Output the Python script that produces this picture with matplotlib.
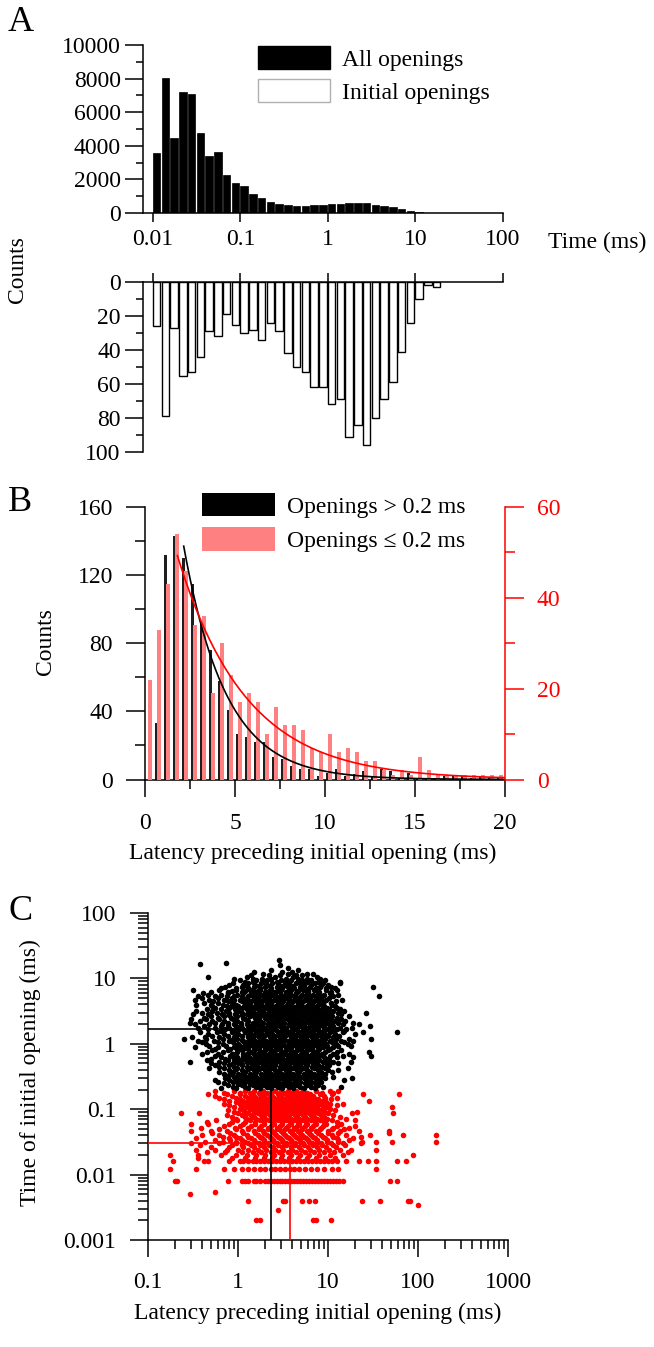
import numpy as np
import matplotlib.pyplot as plt
from matplotlib.patches import Patch
from matplotlib.ticker import (FixedLocator, MultipleLocator, NullLocator,
                               NullFormatter, LogLocator, FuncFormatter)

plt.rcParams['font.family'] = ['Liberation Serif', 'DejaVu Serif']
plt.rcParams['font.size'] = 17
plt.rcParams['axes.linewidth'] = 1.1

# ---- panel A : log-binned dwell times (10 bins per decade, from 0.01 ms)
a_all = [3600, 8050, 4450, 7200, 7100, 4750, 3400, 3650, 2250, 1800,
         1600, 1150, 920, 680, 560, 450, 430, 420, 470, 470,
         510, 540, 610, 610, 580, 500, 430, 360, 230, 120,
         40, 20, 10, 5, 3, 2, 1, 0, 0, 0]
a_init = [26, 79, 27, 55, 53, 44, 29, 32, 19, 25,
          30, 28, 34, 24, 29, 42, 50, 53, 62, 62,
          72, 69, 91, 84, 96, 80, 69, 59, 41, 24,
          10, 2, 3]
a_first_bin = 0.01
a_bins_per_decade = 10

# ---- panel B : latency histograms (0.5 ms groups)
b_centers = [0.5 * (k + 1) for k in range(40)]
b_long = [33, 132, 143, 130, 115, 93, 76, 58, 41, 27,
          25, 22, 22, 13, 12, 8, 6, 6, 2, 4,
          6, 2, 3, 5, 2, 6, 5, 1, 4, 1,
          1, 1, 2, 2, 2, 1, 2, 1, 1, 1]
b_short = [22, 33, 43, 54, 46, 34, 36, 19, 30, 23,
           17, 19, 17, 10, 16, 12, 12, 11, 7, 6,
           10, 6, 7, 6, 4, 4, 2, 1, 2, 1,
           5, 2, 1, 1, 1, 1, 1, 1, 1, 1]
# exponential fits: start, amplitude, time constant
fit_long = (2.15, 137.0, 2.35)
fit_short = (1.8, 49.3, 3.8)

# ---- panel C : latency (x) vs duration (y) of the initial opening
blk_levels = [13.3, 11.8, 10.5, 9.4, 8.4, 7.5, 6.7, 6.0, 5.3, 4.7, 4.2, 3.76,
              3.35, 2.98, 2.66, 2.37, 2.1, 1.88, 1.67, 1.49, 1.33, 1.18, 1.05,
              0.94, 0.84, 0.75, 0.66, 0.59, 0.53, 0.47, 0.42, 0.37, 0.33,
              0.30, 0.265, 0.235, 0.21]
blk_rows = [
    [2.3, 4.6],
    [1.9, 3.6, 5.9, 6.9],
    [0.47, 1.25, 2.6, 4.1, 7.6],
    [1.05, 1.6, 2.1, 3.0, 3.9, 5.2, 6.4, 9.2],
    [0.88, 1.3, 1.8, 2.4, 3.3, 4.4, 5.6, 7.1, 8.8, 13.5],
    [0.72, 1.1, 1.5, 2.0, 2.7, 3.6, 4.9, 6.3, 8.1, 10.9, 32],
    [0.32, 0.62, 0.95, 1.35, 1.75, 2.3, 3.0, 3.9, 5.3, 7.0, 9.6, 12.5],
    [0.41, 0.78, 1.15, 1.55, 2.05, 2.6, 3.4, 4.4, 5.8, 7.7, 10.5],
    [0.36, 0.55, 0.9, 1.3, 1.7, 2.25, 2.9, 3.8, 5.0, 6.5, 8.5, 11.5, 37],
    [0.48, 0.7, 1.05, 1.45, 1.9, 2.5, 3.2, 4.2, 5.5, 7.2, 9.5, 14.2],
    [0.42, 0.6, 0.85, 1.2, 1.6, 2.1, 2.75, 3.6, 4.7, 6.2, 8.0, 10.8],
    [0.52, 0.75, 1.0, 1.4, 1.85, 2.4, 3.1, 4.0, 5.2, 6.9, 9.0, 12.0],
    [0.45, 0.65, 0.92, 1.25, 1.65, 2.15, 2.8, 3.6, 4.6, 6.0, 7.8, 10.2, 13.5],
    [0.4, 0.58, 0.8, 1.1, 1.5, 1.95, 2.55, 3.3, 4.3, 5.6, 7.3, 9.6, 12.8, 26.5],
    [0.5, 0.7, 0.98, 1.35, 1.75, 2.3, 3.0, 3.9, 5.1, 6.6, 8.6, 11.2, 17.1],
    [0.3, 0.44, 0.62, 0.88, 1.2, 1.6, 2.1, 2.75, 3.6, 4.7, 6.2, 8.1, 10.5, 14.0],
    [0.29, 0.55, 0.78, 1.08, 1.45, 1.9, 2.5, 3.25, 4.25, 5.6, 7.4, 9.8, 13.0, 19.0],
    [0.42, 0.65, 0.95, 1.3, 1.7, 2.25, 2.95, 3.85, 5.0, 6.6, 8.7, 11.5, 29],
    [0.47, 0.72, 1.02, 1.4, 1.85, 2.45, 3.2, 4.2, 5.5, 7.2, 9.4, 12.5, 16.0],
    [0.38, 0.58, 0.85, 1.2, 1.6, 2.1, 2.75, 3.6, 4.7, 6.1, 8.0, 10.6, 14.5, 24.5, 58],
    [0.52, 0.78, 1.1, 1.5, 1.95, 2.55, 3.35, 4.4, 5.8, 7.6, 10.0, 13.2],
    [0.25, 0.44, 0.68, 0.98, 1.35, 1.8, 2.35, 3.1, 4.05, 5.3, 7.0, 9.2, 12.2, 17.0, 30],
    [0.4, 0.6, 0.88, 1.25, 1.65, 2.2, 2.9, 3.8, 5.0, 6.5, 8.5, 11.2, 15.0],
    [0.48, 0.74, 1.05, 1.45, 1.95, 2.55, 3.35, 4.4, 5.7, 7.5, 9.8, 13.0, 18.0],
    [0.56, 0.82, 1.15, 1.55, 2.05, 2.7, 3.55, 4.65, 6.1, 8.0, 10.5],
    [0.45, 0.68, 0.98, 1.35, 1.8, 2.4, 3.15, 4.1, 5.4, 7.1, 9.3, 12.5, 28.7],
    [0.55, 0.82, 1.15, 1.55, 2.05, 2.7, 3.55, 4.65, 6.1, 8.0, 10.6, 14.5, 30],
    [0.5, 0.72, 1.0, 1.38, 1.85, 2.45, 3.2, 4.2, 5.5, 7.2, 9.5],
    [0.29, 0.62, 0.9, 1.25, 1.65, 2.2, 2.9, 3.8, 5.0, 6.6, 8.7, 11.5, 18.0],
    [0.56, 0.8, 1.12, 1.5, 2.0, 2.6, 3.4, 4.5, 5.9, 7.8, 10.2],
    [0.48, 0.7, 0.98, 1.35, 1.8, 2.4, 3.15, 4.15, 5.4, 7.0, 9.2, 16.5],
    [0.62, 0.88, 1.2, 1.6, 2.15, 2.8, 3.7, 4.8, 6.3, 8.3, 11.0],
    [0.8, 1.1, 1.45, 1.95, 2.55, 3.35, 4.4, 5.8, 7.6],
    [0.72, 1.0, 1.35, 1.8, 2.35, 3.1, 4.1, 5.4, 7.1, 9.3, 18.5],
    [0.6, 0.88, 1.2, 1.6, 2.15, 2.8, 3.7, 4.9, 6.4, 8.4],
    [0.78, 1.1, 1.45, 1.95, 2.6, 3.4, 4.5, 5.9, 7.8],
    [0.65, 0.95, 1.3, 1.75, 2.35, 3.1, 4.1, 5.4, 7.2],
]
blk_levels2 = [12.5, 11.1, 9.9, 8.9, 7.9, 7.1, 6.3, 5.6, 5.0, 4.45, 3.97, 3.55,
               3.16, 2.82, 2.51, 2.23, 1.99, 1.77, 1.58, 1.41, 1.25, 1.11, 0.99,
               0.89, 0.79, 0.705, 0.625, 0.56, 0.50, 0.445, 0.395, 0.35, 0.315,
               0.283, 0.25, 0.222]
blk_rows2 = [
    [1.5, 3.1, 4.0],
    [1.4, 2.2, 2.9, 4.4, 5.2],
    [0.9, 1.45, 1.85, 2.3, 3.4, 4.6, 5.8, 8.2],
    [1.2, 1.45, 2.0, 2.7, 3.6, 4.8, 5.9, 7.8],
    [0.8, 1.15, 1.55, 2.1, 2.85, 3.8, 5.0, 6.5, 8.3, 10.0],
    [0.65, 0.95, 1.3, 1.75, 2.35, 3.1, 4.2, 5.6, 7.3, 9.4, 12.0],
    [0.5, 0.78, 1.1, 1.5, 2.0, 2.6, 3.4, 4.5, 6.0, 8.0, 10.8],
    [0.46, 0.65, 0.98, 1.35, 1.8, 2.35, 3.0, 3.9, 5.1, 6.8, 9.0, 13.0],
    [0.4, 0.6, 0.85, 1.15, 1.55, 2.05, 2.7, 3.5, 4.6, 6.0, 7.8, 10.2],
    [0.53, 0.77, 1.1, 1.4, 1.85, 2.4, 3.15, 4.1, 5.3, 7.0, 9.0, 12.2],
    [0.34, 0.5, 0.68, 0.95, 1.3, 1.7, 2.25, 2.95, 3.85, 5.0, 6.5, 8.5, 11.0],
    [0.56, 0.8, 1.12, 1.5, 1.95, 2.55, 3.35, 4.35, 5.7, 7.4, 9.7, 12.6],
    [0.34, 0.52, 0.74, 1.0, 1.35, 1.8, 2.35, 3.05, 4.0, 5.2, 6.8, 8.8, 11.5, 15.0],
    [0.47, 0.67, 0.92, 1.25, 1.65, 2.15, 2.8, 3.6, 4.7, 6.1, 8.0, 10.3, 13.8],
    [0.42, 0.6, 0.83, 1.15, 1.55, 2.0, 2.6, 3.35, 4.35, 5.7, 7.4, 9.6, 12.5],
    [0.38, 0.52, 0.7, 0.98, 1.3, 1.75, 2.3, 3.0, 3.95, 5.2, 6.8, 8.9, 11.6, 15.5],
    [0.33, 0.48, 0.66, 0.9, 1.25, 1.6, 2.15, 2.8, 3.65, 4.8, 6.3, 8.2, 10.8, 14.5, 22.0],
    [0.36, 0.55, 0.8, 1.1, 1.5, 1.98, 2.6, 3.45, 4.55, 6.0, 7.8, 10.2, 13.5, 18.5],
    [0.64, 0.92, 1.3, 1.72, 2.28, 3.0, 3.9, 5.1, 6.7, 8.8, 11.5, 15.0],
    [0.46, 0.7, 1.0, 1.4, 1.83, 2.4, 3.15, 4.1, 5.35, 7.0, 9.2, 12.0, 20.0],
    [0.31, 0.43, 0.62, 0.9, 1.28, 1.7, 2.25, 2.95, 3.85, 5.0, 6.6, 8.6, 11.3],
    [0.36, 0.54, 0.8, 1.15, 1.55, 2.05, 2.7, 3.55, 4.6, 6.0, 7.9, 10.4, 14.0, 19.0],
    [0.44, 0.68, 1.0, 1.4, 1.85, 2.45, 3.2, 4.2, 5.5, 7.2, 9.4, 12.3, 16.5],
    [0.33, 0.6, 0.9, 1.28, 1.7, 2.25, 2.95, 3.9, 5.1, 6.7, 8.8, 11.5],
    [0.52, 0.78, 1.1, 1.5, 2.0, 2.6, 3.45, 4.5, 5.9, 7.7, 10.0, 14.0],
    [0.4, 0.6, 0.88, 1.25, 1.65, 2.2, 2.9, 3.8, 5.0, 6.6, 8.6, 11.5, 17.0],
    [0.65, 0.98, 1.32, 1.75, 2.3, 3.0, 3.95, 5.2, 6.8, 9.0, 12.5, 19.0],
    [0.45, 0.78, 1.1, 1.52, 2.0, 2.65, 3.5, 4.6, 6.0, 7.9, 10.3],
    [0.5, 0.7, 1.0, 1.38, 1.85, 2.4, 3.15, 4.15, 5.5, 7.2, 9.5, 13.0],
    [0.62, 0.9, 1.25, 1.65, 2.2, 2.9, 3.8, 5.0, 6.6, 8.6],
    [0.8, 1.1, 1.5, 2.0, 2.6, 3.45, 4.5, 5.9, 7.7, 10.0, 13.0],
    [0.7, 1.0, 1.35, 1.8, 2.35, 3.1, 4.1, 5.4, 7.0, 9.2],
    [0.9, 1.22, 1.6, 2.1, 2.8, 3.7, 4.85, 6.4, 8.4, 11.5],
    [0.55, 0.8, 1.1, 1.45, 1.95, 2.55, 3.35, 4.45, 5.9, 7.8, 15.0],
    [0.7, 1.0, 1.35, 1.8, 2.4, 3.15, 4.2, 5.5, 7.2],
    [0.88, 1.2, 1.6, 2.1, 2.8, 3.7, 4.9, 6.5, 8.8, 14.0],
]
blk_levels3 = [7.7, 6.5, 5.45, 4.6, 3.85, 3.25, 2.74, 2.3, 1.94, 1.63, 1.37,
               1.15, 0.97, 0.82, 0.69, 0.58, 0.49, 0.41, 0.345, 0.29, 0.245]
blk_rows3 = [
    [1.25, 1.7, 2.25, 3.2, 4.1, 5.3],
    [0.85, 1.2, 1.65, 2.2, 2.8, 3.7, 4.7, 6.0],
    [0.75, 1.1, 1.5, 2.0, 2.6, 3.3, 4.3, 5.6, 7.3],
    [0.9, 1.25, 1.7, 2.2, 2.85, 3.7, 4.8, 6.3, 8.3],
    [0.85, 1.18, 1.6, 2.05, 2.65, 3.45, 4.5, 5.8, 7.6],
    [0.95, 1.3, 1.75, 2.3, 2.95, 3.85, 5.0, 6.5, 8.4],
    [0.8, 1.1, 1.45, 1.9, 2.45, 3.2, 4.15, 5.4, 7.0, 9.2],
    [0.93, 1.25, 1.65, 2.15, 2.8, 3.65, 4.75, 6.2, 8.0],
    [0.78, 1.07, 1.42, 1.85, 2.4, 3.15, 4.1, 5.35, 7.0, 9.1],
    [0.88, 1.18, 1.55, 2.05, 2.65, 3.45, 4.5, 5.9, 7.7],
    [0.95, 1.3, 1.7, 2.2, 2.9, 3.75, 4.9, 6.4, 8.3],
    [0.82, 1.1, 1.45, 1.9, 2.5, 3.25, 4.25, 5.55, 7.3],
    [0.92, 1.2, 1.6, 2.1, 2.7, 3.55, 4.6, 6.0, 7.9],
    [0.98, 1.3, 1.72, 2.25, 2.95, 3.85, 5.0, 6.6],
    [0.85, 1.15, 1.5, 1.95, 2.55, 3.35, 4.35, 5.7, 7.5],
    [0.9, 1.22, 1.6, 2.1, 2.75, 3.6, 4.7, 6.2],
    [0.85, 1.12, 1.5, 1.95, 2.55, 3.35, 4.4, 5.8],
    [0.95, 1.28, 1.7, 2.2, 2.9, 3.8, 5.0],
    [0.85, 1.15, 1.5, 2.0, 2.6, 3.4, 4.5],
    [0.92, 1.25, 1.65, 2.15, 2.85, 3.75],
    [1.0, 1.35, 1.75, 2.3, 3.0, 4.0],
]
blk_extra_x = [0.375, 0.735, 2.83, 2.9, 3.6, 13.5, 0.33, 0.32]
blk_extra_y = [16.7, 17.0, 19.2, 15.9, 14.3, 8.7, 4.7, 2.9]

red_levels = [0.19, 0.17, 0.15, 0.135, 0.12, 0.108, 0.096, 0.086, 0.076, 0.068,
              0.06, 0.052, 0.046, 0.04, 0.036, 0.032, 0.028, 0.024, 0.02, 0.016,
              0.012, 0.008, 0.004, 0.002]
red_rows = [
    [0.55, 0.9, 1.2, 1.5, 1.9, 2.6, 3.0, 3.6, 4.4, 5.3, 7.3, 10.5, 13.0],
    [0.47, 0.75, 1.05, 1.4, 1.75, 2.2, 2.8, 3.4, 4.1, 5.0, 6.3, 8.2, 11.0, 24.3, 61],
    [0.62, 0.95, 1.3, 1.6, 2.0, 2.5, 3.1, 3.8, 4.7, 5.8, 7.0, 9.2, 12.5],
    [0.8, 1.15, 1.45, 1.85, 2.3, 2.9, 3.5, 4.3, 5.3, 6.6, 8.5, 28.5],
    [0.7, 1.05, 1.35, 1.7, 2.1, 2.7, 3.3, 4.0, 5.0, 6.1, 7.8, 10.5, 14.5],
    [0.9, 1.25, 1.55, 2.0, 2.45, 3.05, 3.8, 4.6, 5.6, 7.2, 9.5, 52],
    [0.78, 1.15, 1.45, 1.8, 2.3, 2.85, 3.5, 4.3, 5.2, 6.6, 8.6, 12.0],
    [0.23, 0.365, 1.0, 1.3, 1.65, 2.1, 2.6, 3.25, 4.0, 4.9, 6.1, 7.8, 10.0, 18.5, 53],
    [0.85, 1.2, 1.5, 1.95, 2.45, 3.0, 3.7, 4.55, 5.6, 7.0, 9.0, 13.5],
    [0.57, 0.98, 1.35, 1.75, 2.2, 2.75, 3.4, 4.2, 5.2, 6.4, 8.2, 11.0, 20.0],
    [0.3, 0.46, 0.8, 1.15, 1.55, 1.95, 2.5, 3.1, 3.85, 4.8, 5.9, 7.4, 9.6, 14.0],
    [0.39, 0.92, 1.3, 1.7, 2.15, 2.7, 3.4, 4.2, 5.2, 6.5, 8.4, 11.5, 17.0],
    [0.3, 0.5, 0.75, 1.1, 1.5, 1.9, 2.4, 3.0, 3.75, 4.7, 5.8, 7.4, 10.0, 13.5, 22.0, 48],
    [0.4, 0.62, 0.9, 1.25, 1.65, 2.1, 2.65, 3.35, 4.2, 5.2, 6.5, 8.3, 11.0, 16.0, 29.0, 68, 160],
    [0.34, 0.8, 1.05, 1.4, 1.85, 2.35, 2.95, 3.7, 4.6, 5.7, 7.2, 9.2, 12.5, 19.0],
    [0.43, 0.68, 0.95, 1.2, 1.55, 1.95, 2.5, 3.15, 3.95, 4.9, 6.1, 7.6, 9.8, 13.0, 24.0, 34.0, 52, 160],
    [0.38, 0.85, 1.1, 1.4, 1.75, 2.2, 2.75, 3.45, 4.3, 5.4, 6.8, 8.6, 11.5, 15.5],
    [0.34, 0.55, 0.75, 1.0, 1.3, 1.65, 2.05, 2.6, 3.2, 4.0, 5.0, 6.3, 8.0, 10.3, 13.5, 18.0, 34.0],
    [0.174, 0.36, 0.65, 0.95, 1.25, 1.6, 2.0, 2.5, 3.1, 3.9, 4.9, 6.2, 7.9, 10.5, 14.5, 87],
    [0.19, 0.42, 0.47, 0.8, 1.05, 1.3, 1.6, 1.95, 2.4, 2.95, 3.6, 4.4, 5.4, 6.6, 8.1,
     10.0, 12.5, 16.0, 22.0, 28.0, 34.0, 59, 74],
    [0.174, 0.34, 0.7, 1.1, 1.5, 2.0, 2.6, 3.3, 4.2, 5.5, 7.5, 11.0, 34.0],
    [0.2, 0.21, 0.77, 1.1, 1.3, 1.5, 1.75, 2.0, 2.3, 2.7, 3.1, 3.6, 4.2, 4.9, 5.7,
     6.6, 7.7, 9.0, 10.5, 12.3, 14.5, 49, 59],
    [1.29, 3.2, 3.35, 5.2, 6.1, 7.2, 23.6, 37.5, 77, 81],
    [1.6, 1.75, 6.9, 7.3, 10.9],
]
red_levels2 = [0.18, 0.16, 0.142, 0.128, 0.114, 0.102, 0.091, 0.081, 0.072,
               0.064, 0.056, 0.049, 0.043, 0.038, 0.034, 0.03, 0.026, 0.022,
               0.018, 0.016, 0.012, 0.008]
red_rows2 = [
    [0.7, 1.05, 1.35, 1.7, 2.1, 2.35, 2.95, 3.3, 4.0, 4.8, 5.9, 8.5, 11.5],
    [0.55, 0.85, 1.2, 1.5, 1.9, 2.4, 3.0, 3.7, 4.5, 5.5, 6.8, 9.0],
    [0.7, 1.05, 1.4, 1.75, 2.2, 2.75, 3.35, 4.1, 5.0, 6.2, 7.8, 10.8],
    [0.95, 1.25, 1.6, 2.0, 2.5, 3.1, 3.8, 4.7, 5.8, 7.3, 9.5],
    [0.8, 1.15, 1.45, 1.85, 2.3, 2.85, 3.55, 4.35, 5.3, 6.6, 8.6, 12.5],
    [1.05, 1.35, 1.7, 2.15, 2.65, 3.3, 4.1, 5.0, 6.1, 7.8, 10.5],
    [0.9, 1.2, 1.55, 1.95, 2.45, 3.05, 3.75, 4.6, 5.7, 7.2, 9.2, 21.0],
    [0.75, 1.1, 1.4, 1.8, 2.25, 2.8, 3.45, 4.3, 5.3, 6.5, 8.4, 11.5],
    [0.95, 1.25, 1.6, 2.0, 2.55, 3.15, 3.9, 4.8, 5.9, 7.5, 9.8, 16.0],
    [0.45, 0.85, 1.2, 1.55, 1.95, 2.45, 3.05, 3.8, 4.65, 5.7, 7.1, 9.0, 12.5],
    [0.7, 1.05, 1.4, 1.8, 2.3, 2.9, 3.6, 4.5, 5.5, 6.9, 8.9, 12.5, 20.0],
    [0.62, 0.95, 1.3, 1.7, 2.15, 2.7, 3.35, 4.2, 5.2, 6.4, 8.2, 11.0, 15.0],
    [0.52, 0.82, 1.15, 1.55, 1.95, 2.5, 3.15, 3.95, 4.9, 6.1, 7.8, 10.0, 13.0, 48],
    [0.68, 0.95, 1.3, 1.75, 2.25, 2.8, 3.5, 4.4, 5.45, 6.9, 8.8, 11.5, 23.0],
    [0.55, 0.82, 1.12, 1.5, 1.95, 2.45, 3.05, 3.85, 4.85, 6.0, 7.6, 9.8, 12.8, 17.0],
    [0.3, 0.62, 0.95, 1.3, 1.7, 2.15, 2.7, 3.4, 4.25, 5.3, 6.6, 8.4, 10.8, 14.5, 23.0],
    [0.5, 0.8, 1.15, 1.5, 1.95, 2.45, 3.05, 3.85, 4.8, 6.0, 7.5, 9.4, 12.2],
    [0.45, 0.72, 1.1, 1.45, 1.8, 2.3, 2.85, 3.55, 4.45, 5.6, 7.0, 9.0, 11.8, 16.5],
    [0.36, 0.85, 1.2, 1.55, 1.95, 2.4, 3.0, 3.7, 4.6, 5.8, 7.3, 9.3, 12.0],
    [1.15, 1.45, 1.75, 2.15, 2.65, 3.25, 3.95, 4.85, 5.95, 7.3, 9.0, 11.2],
    [0.9, 1.3, 1.75, 2.3, 2.95, 3.75, 4.8, 6.4, 9.0, 13.0],
    [1.2, 1.6, 2.15, 2.5, 2.9, 3.35, 3.9, 4.55, 5.3, 6.1, 7.1, 8.3, 9.7, 11.3, 13.3],
]
red_extra_x = [0.295, 0.56, 101, 2.8]
red_extra_y = [0.005, 0.0055, 0.0034, 0.0029]

# mean latency / mean duration markers
blk_mean = (2.3, 1.7)
red_mean = (3.8, 0.03)

RED = '#ff0000'
PINK = '#ff8080'
FS = 17

fig = plt.figure(figsize=(6.54, 13.47), dpi=100)
W, H = 654.0, 1347.0


def box(l, r, t, b):
    return [l / W, 1 - b / H, (r - l) / W, (b - t) / H]


def log_fmt(v, p):
    return f'{v:g}'


def flatten(levels, rows):
    xs, ys = [], []
    for lev, row in zip(levels, rows):
        xs += row
        ys += [lev] * len(row)
    return xs, ys


# ================= A =================
axA1 = fig.add_axes(box(143, 503, 45, 213))
axA2 = fig.add_axes(box(143, 503, 282, 452), sharex=axA1)

edges = a_first_bin * 10 ** (np.arange(len(a_all)) / a_bins_per_decade)
widths = edges * (10 ** (0.85 / a_bins_per_decade) - 1)
axA1.bar(edges, a_all, width=widths, align='edge', color='black',
         edgecolor='black', linewidth=0.5)
n_init = len(a_init)
axA2.bar(edges[:n_init], a_init, width=widths[:n_init], align='edge',
         color='white', edgecolor='black', linewidth=1.0)

axA1.set_xscale('log')
axA1.set_xlim(0.00769, 100)
axA1.set_ylim(0, 10000)
axA2.set_ylim(100, 0)

for s in ['top', 'right']:
    axA1.spines[s].set_visible(False)
for s in ['bottom', 'right']:
    axA2.spines[s].set_visible(False)

axA1.xaxis.set_major_locator(FixedLocator([0.01, 0.1, 1, 10, 100]))
axA1.xaxis.set_minor_locator(NullLocator())
axA1.xaxis.set_major_formatter(FuncFormatter(log_fmt))
axA1.tick_params(axis='x', length=6.5, width=1.1, pad=5)
axA1.yaxis.set_major_locator(MultipleLocator(2000))
axA1.yaxis.set_minor_locator(MultipleLocator(1000))
axA1.tick_params(axis='y', which='major', length=13, width=1.1, pad=3)
axA1.tick_params(axis='y', which='minor', length=5, width=1.1)

axA2.xaxis.set_ticks_position('top')
axA2.tick_params(axis='x', length=6.5, width=1.1, labeltop=False, labelbottom=False)
axA2.yaxis.set_major_locator(MultipleLocator(20))
axA2.yaxis.set_minor_locator(MultipleLocator(10))
axA2.tick_params(axis='y', which='major', length=13, width=1.1, pad=3)
axA2.tick_params(axis='y', which='minor', length=5, width=1.1)

axA1.legend(handles=[Patch(facecolor='black', edgecolor='black'),
                     Patch(facecolor='white', edgecolor='#b0b0b0')],
            labels=['All openings', 'Initial openings'],
            loc='upper left', bbox_to_anchor=(258 / W, 1 - 46 / H),
            bbox_transform=fig.transFigure, frameon=False, borderpad=0,
            borderaxespad=0, handlelength=3.05, handleheight=1.15,
            handletextpad=0.5, labelspacing=0.35, fontsize=FS)

fig.text(548 / W, 1 - 242 / H, 'Time (ms)', ha='left', va='center', fontsize=FS)
fig.text(18 / W, 1 - 270 / H, 'Counts', rotation=90, ha='center', va='center',
         fontsize=FS)
fig.text(8 / W, 1 - 6 / H, 'A', ha='left', va='top', fontsize=26)

# ================= B =================
axB = fig.add_axes(box(145, 505, 507, 779.5))
axB2 = axB.twinx()
bc = np.array(b_centers)
axB.bar(bc + 0.14, b_long, width=0.21, color='#1e1e1e')
axB2.bar(bc - 0.2, b_short, width=0.22, color=PINK)

# both fit curves drawn on the front (twin) axes; the black one in left-axis units
x0, amp, tau = fit_long
xs = np.linspace(x0, 20, 200)
axB2.plot(xs, amp * np.exp(-(xs - x0) / tau), color='black', lw=1.2,
          transform=axB.transData)
x0, amp, tau = fit_short
xs = np.linspace(x0, 20, 200)
axB2.plot(xs, amp * np.exp(-(xs - x0) / tau), color=RED, lw=1.2)

axB.set_xlim(0, 20)
axB.set_ylim(0, 160)
axB2.set_ylim(0, 60)
axB.spines['top'].set_visible(False)
axB.spines['right'].set_visible(False)
for s in ['top', 'left', 'bottom']:
    axB2.spines[s].set_visible(False)
axB2.spines['right'].set_color(RED)

axB.xaxis.set_major_locator(MultipleLocator(5))
axB.xaxis.set_minor_locator(MultipleLocator(2.5))
axB.tick_params(axis='x', which='major', length=12, width=1.1, pad=12)
axB.tick_params(axis='x', which='minor', length=6.5, width=1.1)
axB.yaxis.set_major_locator(MultipleLocator(40))
axB.yaxis.set_minor_locator(MultipleLocator(20))
axB.tick_params(axis='y', which='major', length=14, width=1.1, pad=9)
axB.tick_params(axis='y', which='minor', length=7, width=1.1)
axB2.yaxis.set_major_locator(MultipleLocator(20))
axB2.yaxis.set_minor_locator(MultipleLocator(10))
axB2.tick_params(axis='y', which='major', length=14, width=1.1, pad=9,
                 colors=RED)
axB2.tick_params(axis='y', which='minor', length=7, width=1.1, colors=RED)

axB2.legend(handles=[Patch(facecolor='black'), Patch(facecolor=PINK)],
            labels=['Openings > 0.2 ms', 'Openings \u2264 0.2 ms'],
            loc='upper left', bbox_to_anchor=(202 / W, 1 - 493 / H),
            bbox_transform=fig.transFigure, frameon=False, borderpad=0,
            borderaxespad=0, handlelength=3.1, handleheight=1.15,
            handletextpad=0.5, labelspacing=0.4, fontsize=FS)

fig.text(45 / W, 1 - 642 / H, 'Counts', rotation=90, ha='center', va='center',
         fontsize=FS)
fig.text(313 / W, 1 - 853 / H, 'Latency preceding initial opening (ms)',
         ha='center', va='center', fontsize=FS)
fig.text(8 / W, 1 - 486 / H, 'B', ha='left', va='top', fontsize=26)

# ================= C =================
axC = fig.add_axes(box(148, 508, 913, 1240))

red_x, red_y = flatten(red_levels, red_rows)
rx2, ry2 = flatten(red_levels2, red_rows2)
red_x += rx2 + red_extra_x
red_y += ry2 + red_extra_y

blk_x, blk_y = flatten(blk_levels, blk_rows)
bx2, by2 = flatten(blk_levels2, blk_rows2)
bx3, by3 = flatten(blk_levels3, blk_rows3)
blk_x += bx2 + bx3 + blk_extra_x
blk_y += by2 + by3 + blk_extra_y

axC.scatter(red_x, red_y, s=16, color=RED, linewidths=0, zorder=2)
axC.scatter(blk_x, blk_y, s=16, color='black', linewidths=0, zorder=2)

axC.plot([0.1, blk_mean[0]], [blk_mean[1], blk_mean[1]], color='black', lw=1.2, zorder=3)
axC.plot([blk_mean[0], blk_mean[0]], [0.001, blk_mean[1]], color='black', lw=1.2, zorder=3)
axC.plot([0.1, red_mean[0]], [red_mean[1], red_mean[1]], color=RED, lw=1.2, zorder=3)
axC.plot([red_mean[0], red_mean[0]], [0.001, red_mean[1]], color=RED, lw=1.2, zorder=3)

axC.set_xscale('log')
axC.set_yscale('log')
axC.set_xlim(0.1, 1000)
axC.set_ylim(0.001, 100)
axC.spines['top'].set_visible(False)
axC.spines['right'].set_visible(False)

for axis in (axC.xaxis, axC.yaxis):
    axis.set_major_locator(LogLocator(base=10, numticks=10))
    axis.set_minor_locator(LogLocator(base=10, subs=np.arange(2, 10), numticks=20))
    axis.set_major_formatter(FuncFormatter(log_fmt))
    axis.set_minor_formatter(NullFormatter())
axC.tick_params(axis='x', which='major', length=12, width=1.1, pad=11)
axC.tick_params(axis='x', which='minor', length=6.5, width=1.1)
axC.tick_params(axis='y', which='major', length=13, width=1.1, pad=10)
axC.tick_params(axis='y', which='minor', length=7, width=1.1)

fig.text(30 / W, 1 - 1073 / H, 'Time of initial opening (ms)', rotation=90,
         ha='center', va='center', fontsize=FS)
fig.text(318 / W, 1 - 1313 / H, 'Latency preceding initial opening (ms)',
         ha='center', va='center', fontsize=FS)
fig.text(8 / W, 1 - 895 / H, 'C', ha='left', va='top', fontsize=26)

fig.savefig('out.png', dpi=100)
